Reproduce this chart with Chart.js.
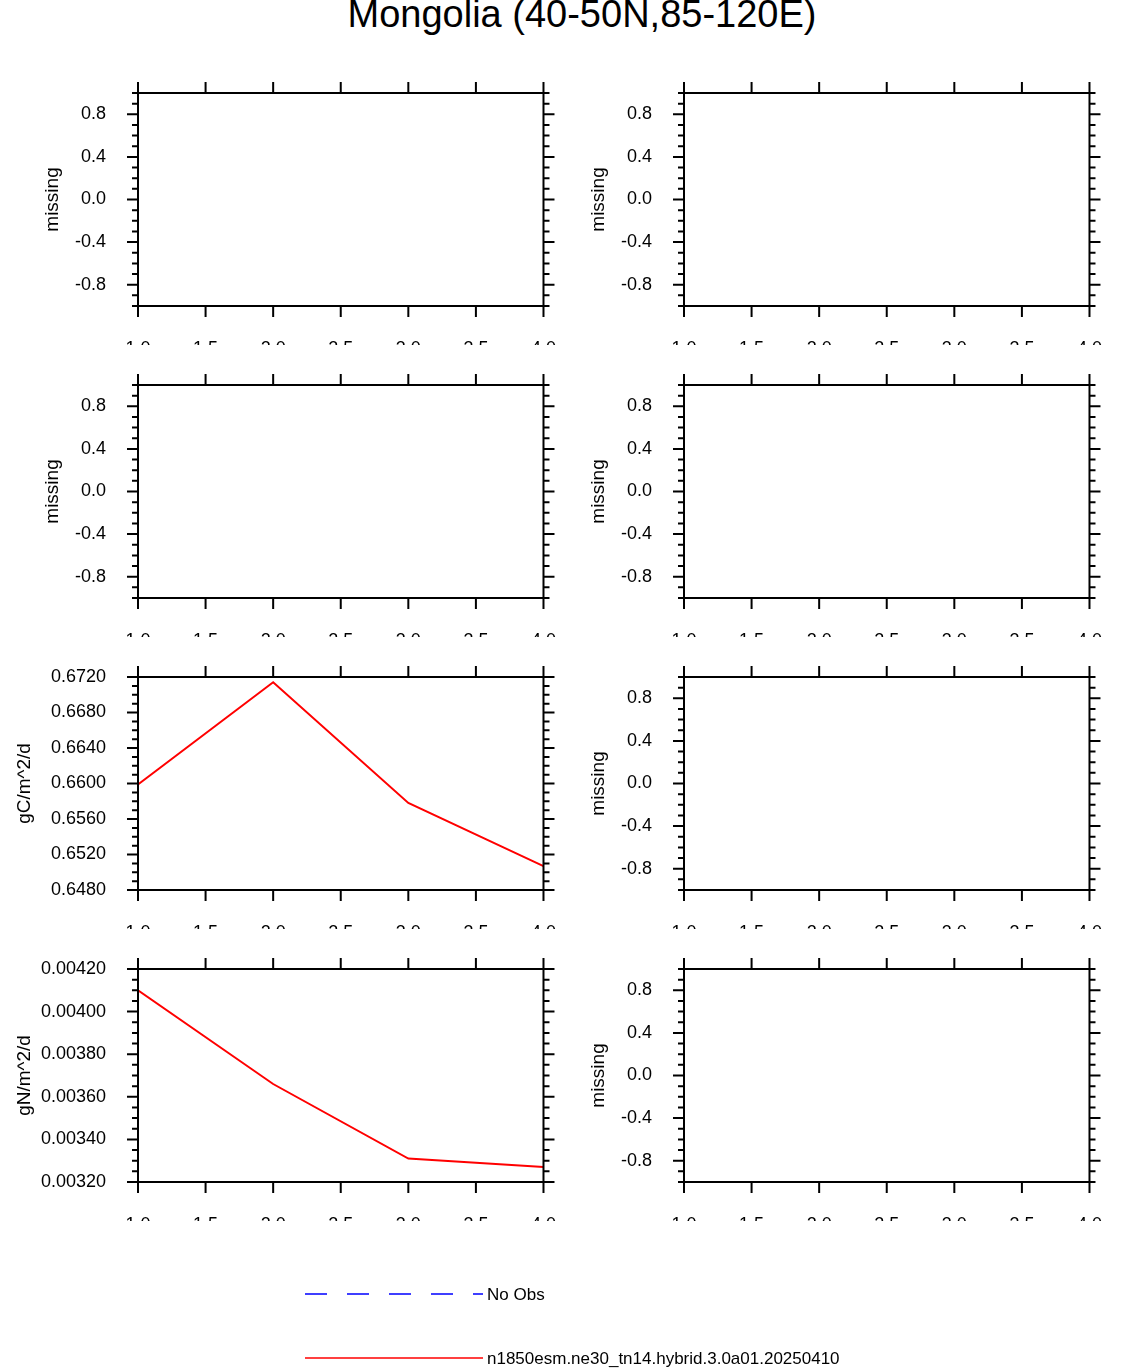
<!DOCTYPE html>
<html>
<head>
<meta charset="utf-8">
<script src="https://cdn.jsdelivr.net/npm/chart.js@4"></script>
<style>
  body { margin: 0; background: #fff; width: 1124px; height: 1368px; position: relative; overflow: hidden; font-family: "Liberation Sans", Arial, sans-serif; }
  #title { position: absolute; top: -7px; left: 0; width: 1164px; text-align: center; font-size: 38px; }
  .panel { position: absolute; width: 580px; height: 292px; }
</style>
</head>
<body>
<div id="title">Mongolia (40-50N,85-120E)</div>
<div id="panels"></div>
<canvas id="legend" width="1124" height="120" style="position:absolute;left:0;top:1260px"></canvas>
<script>
// x positions (years 1..4)
const xLabels = [1, 2, 3, 4];
const xTicks = [1.0, 1.5, 2.0, 2.5, 3.0, 3.5, 4.0];

// values
const hrValues = [0.6599, 0.6714, 0.6578, 0.6507];
const smnValues = [0.00410, 0.00366, 0.00331, 0.00327];

// y tick labels
const missingTicks = [-0.8, -0.4, 0.0, 0.4, 0.8];
const hrTicks = [0.648, 0.652, 0.656, 0.660, 0.664, 0.668, 0.672];
const smnTicks = [0.0032, 0.0034, 0.0036, 0.0038, 0.0040, 0.0042];

const panels = [
  { title: "Net Ecosystem Exchange", ylab: "missing", data: [], ticks: missingTicks, min: -1, max: 1, minor: 0.1, dec: 1, col: 0, row: 0, ty: 23 },
  { title: "GPP", ylab: "missing", data: [], ticks: missingTicks, min: -1, max: 1, minor: 0.1, dec: 1, col: 1, row: 0, ty: 19 },
  { title: "NPP", ylab: "missing", data: [], ticks: missingTicks, min: -1, max: 1, minor: 0.1, dec: 1, col: 0, row: 1, ty: 19 },
  { title: "Autotrophic Respiration", ylab: "missing", data: [], ticks: missingTicks, min: -1, max: 1, minor: 0.1, dec: 1, col: 1, row: 1, ty: 23 },
  { title: "Heterotrophic Respiration", ylab: "gC/m^2/d", data: hrValues, ticks: hrTicks, min: 0.648, max: 0.672, minor: 0.001, dec: 4, col: 0, row: 2, ty: 23 },
  { title: "Ecosystem Respiration", ylab: "missing", data: [], ticks: missingTicks, min: -1, max: 1, minor: 0.1, dec: 1, col: 1, row: 2, ty: 23 },
  { title: "Supplement to Mineral Nitrogen", ylab: "gN/m^2/d", data: smnValues, ticks: smnTicks, min: 0.0032, max: 0.0042, minor: 0.00005, dec: 5, col: 0, row: 3, ty: 23 },
  { title: "Leached Mineral Nitrogen", ylab: "missing", data: [], ticks: missingTicks, min: -1, max: 1, minor: 0.1, dec: 1, col: 1, row: 3, ty: 23 }
];

// draws the NCL-style outward ticks on all four sides, plus the panel title
const frameTicks = {
  id: "frameTicks",
  afterDraw(chart, args, opts) {
    const ctx = chart.ctx;
    const a = chart.chartArea;
    const xs = chart.scales.x, ys = chart.scales.y;
    ctx.save();
    ctx.strokeStyle = "#000";
    ctx.lineWidth = 2;
    ctx.strokeRect(a.left, a.top, a.right - a.left, a.bottom - a.top);
    ctx.beginPath();
    xTicks.forEach(v => {
      const px = xs.getPixelForValue(v);
      ctx.moveTo(px, a.bottom); ctx.lineTo(px, a.bottom + 11);
      ctx.moveTo(px, a.top); ctx.lineTo(px, a.top - 11);
    });
    const n = Math.round((opts.max - opts.min) / opts.minor);
    for (let i = 0; i <= n; i++) {
      const v = opts.min + i * opts.minor;
      const major = opts.ticks.some(t => Math.abs(t - v) < opts.minor / 10);
      const len = major ? 11 : 6;
      const py = ys.getPixelForValue(v);
      ctx.moveTo(a.left, py); ctx.lineTo(a.left - len, py);
      ctx.moveTo(a.right, py); ctx.lineTo(a.right + len, py);
    }
    ctx.stroke();
    ctx.fillStyle = "#000";
    ctx.font = "20px 'Liberation Sans', Arial, sans-serif";
    ctx.textAlign = "center";
    ctx.textBaseline = "middle";
    ctx.fillText(opts.title, (a.left + a.right) / 2, a.top - opts.ty);
    ctx.restore();
  }
};

const holder = document.getElementById("panels");
panels.forEach(p => {
  const div = document.createElement("div");
  div.className = "panel";
  div.style.left = (p.col === 0 ? 0 : 546) + "px";
  div.style.top = (93 + p.row * 292 - 40) + "px";
  const cv = document.createElement("canvas");
  cv.width = 580; cv.height = 292;
  div.appendChild(cv);
  holder.appendChild(div);

  new Chart(cv, {
    type: "line",
    data: {
      datasets: [{
        data: p.data.map((v, i) => ({ x: xLabels[i], y: v })),
        borderColor: "red",
        borderWidth: 2,
        pointRadius: 0,
        tension: 0
      }]
    },
    options: {
      responsive: false,
      animation: false,
      events: [],
      layout: { padding: { top: 40, right: 16, left: 0, bottom: 0 } },
      plugins: {
        legend: { display: false },
        tooltip: { enabled: false },
        frameTicks: { title: p.title, ticks: p.ticks, min: p.min, max: p.max, minor: p.minor }
      },
      scales: {
        x: {
          type: "linear", min: 1, max: 4,
          afterBuildTicks: s => { s.ticks = xTicks.map(v => ({ value: v })); },
          afterFit: s => { s.height = 39; },
          grid: { display: false },
          border: { display: false },
          ticks: { padding: 24, color: "#000", maxRotation: 0, font: { size: 18, family: "'Liberation Sans', Arial, sans-serif" }, callback: v => v.toFixed(1) }
        },
        y: {
          min: p.min, max: p.max,
          afterBuildTicks: s => { s.ticks = p.ticks.map(v => ({ value: v })); },
          afterFit: s => { s.width = 138; },
          grid: { display: false },
          border: { display: false },
          title: { display: true, text: p.ylab, color: "#000", padding: { top: p.ylab === "missing" ? 41 : 13, bottom: 0 }, font: { size: 19, family: "'Liberation Sans', Arial, sans-serif" } },
          ticks: { padding: 24, color: "#000", font: { size: 18, family: "'Liberation Sans', Arial, sans-serif" }, callback: v => v.toFixed(p.dec).replace("-0.0", "0.0") }
        }
      }
    },
    plugins: [frameTicks]
  });
});

// legend at the bottom
const lg = document.getElementById("legend").getContext("2d");
lg.lineWidth = 1.5;
lg.strokeStyle = "blue";
lg.setLineDash([22, 20]);
lg.beginPath(); lg.moveTo(305, 34); lg.lineTo(483, 34); lg.stroke();
lg.setLineDash([]);
lg.strokeStyle = "red";
lg.beginPath(); lg.moveTo(305, 98); lg.lineTo(483, 98); lg.stroke();
lg.fillStyle = "#000";
lg.font = "17px 'Liberation Sans', Arial, sans-serif";
lg.textBaseline = "middle";
lg.fillText("No Obs", 487, 35);
lg.fillText("n1850esm.ne30_tn14.hybrid.3.0a01.20250410", 487, 99);
</script>
</body>
</html>
